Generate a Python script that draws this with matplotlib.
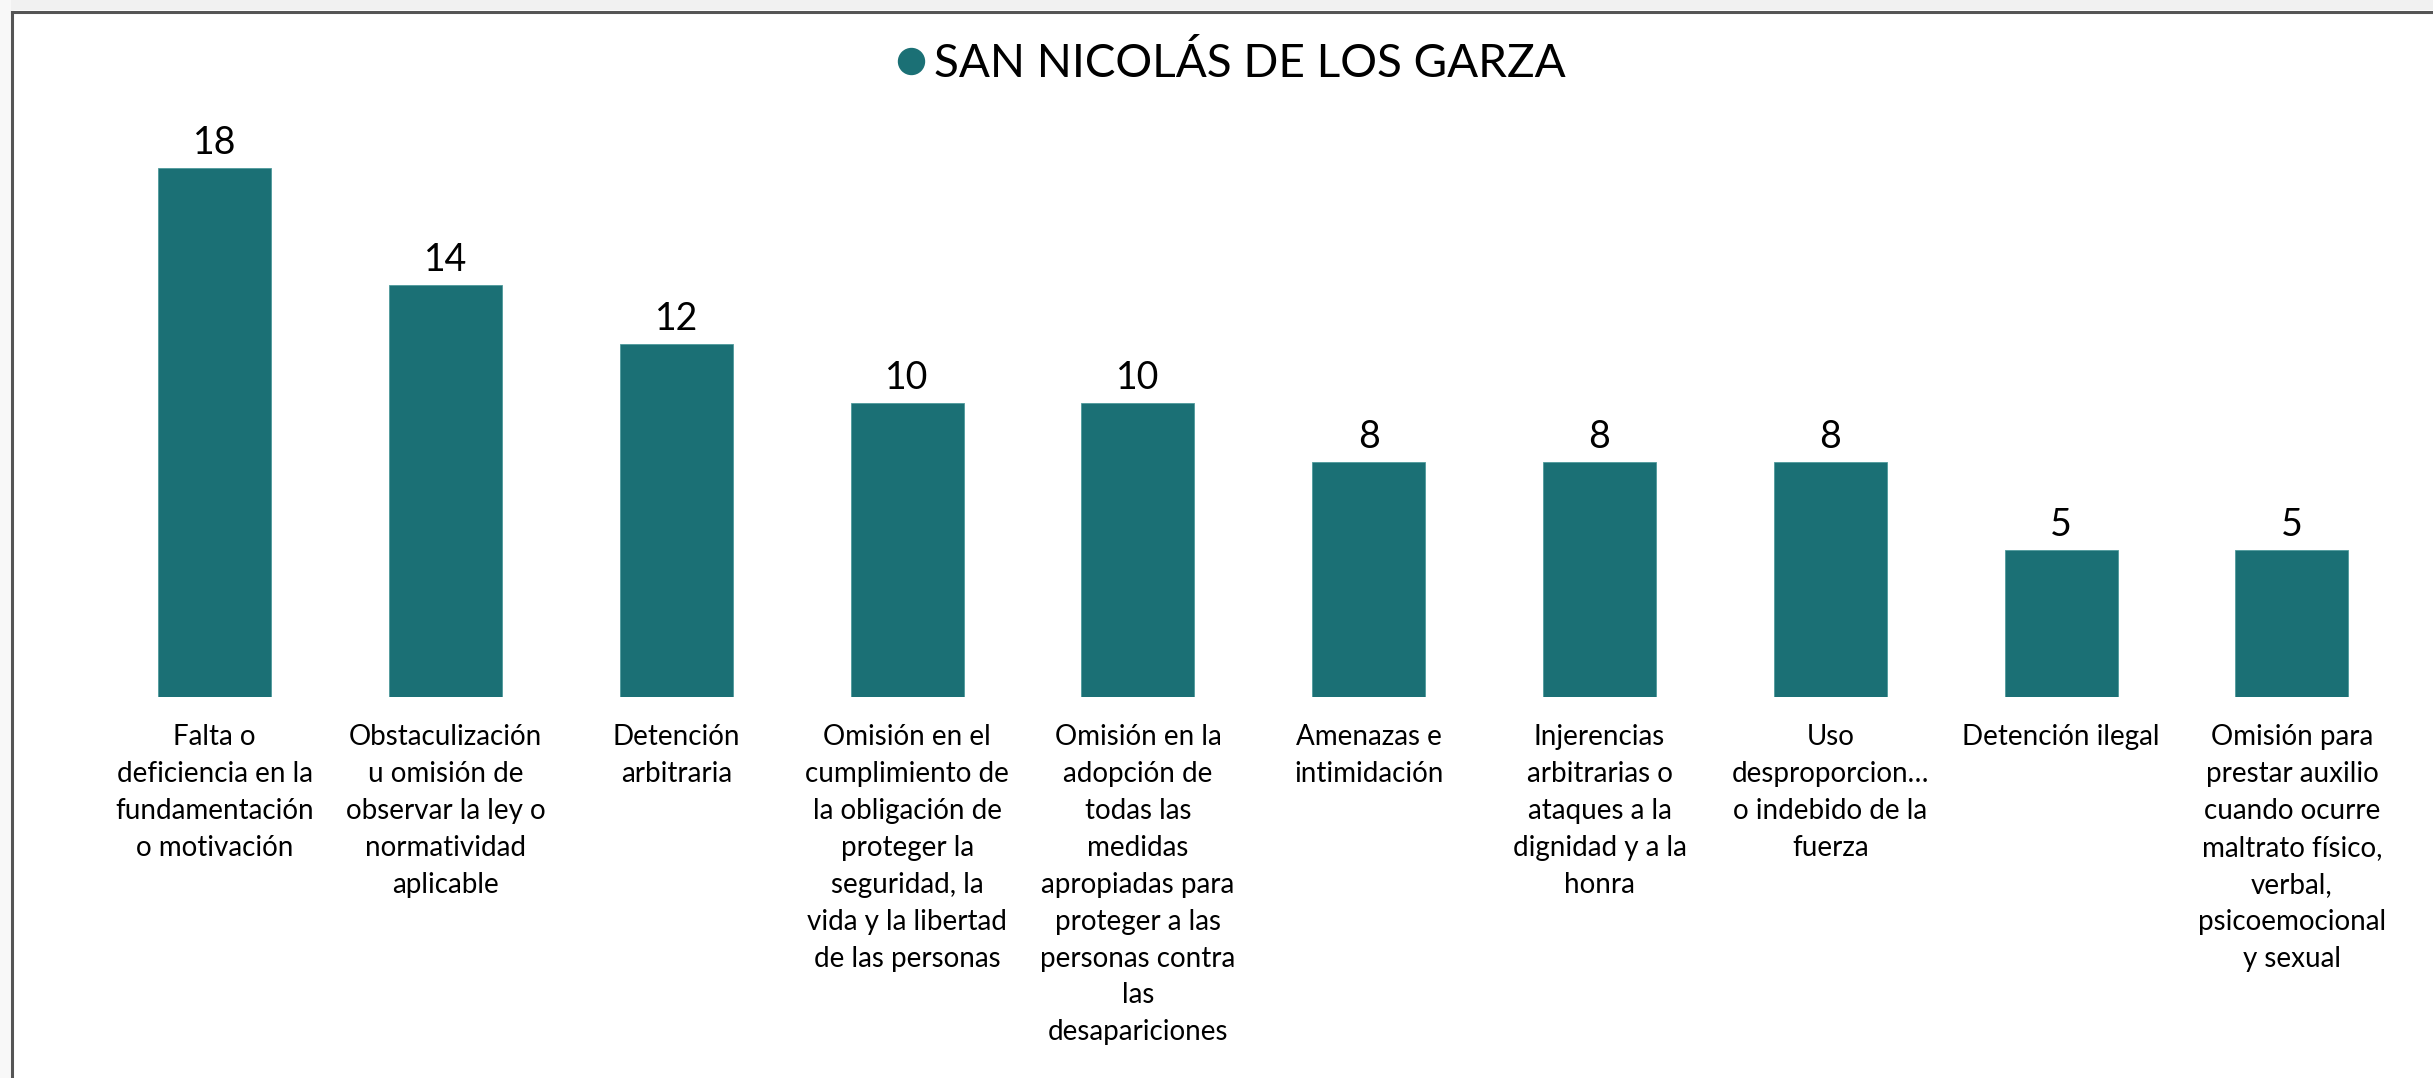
import matplotlib
matplotlib.use("Agg")
import matplotlib.pyplot as plt
from matplotlib.lines import Line2D
from matplotlib.patches import Rectangle

plt.rcParams['font.family'] = ['Lato', 'DejaVu Sans']

# ---- datos ----
titulo = "SAN NICOLÁS DE LOS GARZA"
categorias = [
    "Falta o\ndeficiencia en la\nfundamentación\no motivación",
    "Obstaculización\nu omisión de\nobservar la ley o\nnormatividad\naplicable",
    "Detención\narbitraria",
    "Omisión en el\ncumplimiento de\nla obligación de\nproteger la\nseguridad, la\nvida y la libertad\nde las personas",
    "Omisión en la\nadopción de\ntodas las\nmedidas\napropiadas para\nproteger a las\npersonas contra\nlas\ndesapariciones",
    "Amenazas e\nintimidación",
    "Injerencias\narbitrarias o\nataques a la\ndignidad y a la\nhonra",
    "Uso\ndesproporcion…\no indebido de la\nfuerza",
    "Detención ilegal",
    "Omisión para\nprestar auxilio\ncuando ocurre\nmaltrato físico,\nverbal,\npsicoemocional\ny sexual",
]
valores = [18, 14, 12, 10, 10, 8, 8, 8, 5, 5]

color_barra = "#1b7075"

W, H = 2433, 1078
fig = plt.figure(figsize=(W / 100, H / 100), dpi=100)
fig.patch.set_facecolor("white")

# ejes en pixeles: base de barras en y=697, 29.4 px por unidad
ax_left, ax_width = 99.3, 2308
ax_bottom, ax_height = H - 697, 588
ax = fig.add_axes([ax_left / W, ax_bottom / H, ax_width / W, ax_height / H])
ax.set_xlim(-0.5, len(valores) - 0.5)
ax.set_ylim(0, 20)
ax.axis("off")

x = list(range(len(valores)))
ax.bar(x, valores, width=0.49, color=color_barra, edgecolor="#4f9a9c", linewidth=0.6)

for i, v in enumerate(valores):
    ax.annotate(str(v), xy=(i, v), xytext=(0, 14), textcoords="offset pixels",
                ha="center", va="baseline", fontsize=27, color="black")

for i, cat in enumerate(categorias):
    ax.annotate(cat, xy=(i, 0), xytext=(0, -27), textcoords="offset pixels",
                ha="center", va="top", fontsize=20, color="black",
                linespacing=1.52, annotation_clip=False)

# titulo con punto de leyenda
fig.add_artist(Line2D([911 / W], [1 - 60.5 / H], marker="o", markersize=18.7,
                      color=color_barra, transform=fig.transFigure))
fig.text(934 / W, 1 - 77 / H, titulo, ha="left", va="baseline",
         fontsize=33, color="black")

# marco del grafico (borde superior e izquierdo)
fig.add_artist(Rectangle((0, 1 - 10 / H), 1, 10 / H, transform=fig.transFigure,
                         facecolor="#f1f1f1", edgecolor="none"))
fig.add_artist(Rectangle((0, 0), 11 / W, 1, transform=fig.transFigure,
                         facecolor="#f8f8f8", edgecolor="none"))
fig.add_artist(Line2D([12 / W, 1], [1 - 11.5 / H, 1 - 11.5 / H], color="#555555",
                      linewidth=2.2, transform=fig.transFigure))
fig.add_artist(Line2D([12 / W, 12 / W], [0, 1 - 11.5 / H], color="#555555",
                      linewidth=2.2, transform=fig.transFigure))

fig.savefig("out.png", dpi=100, facecolor="white")
